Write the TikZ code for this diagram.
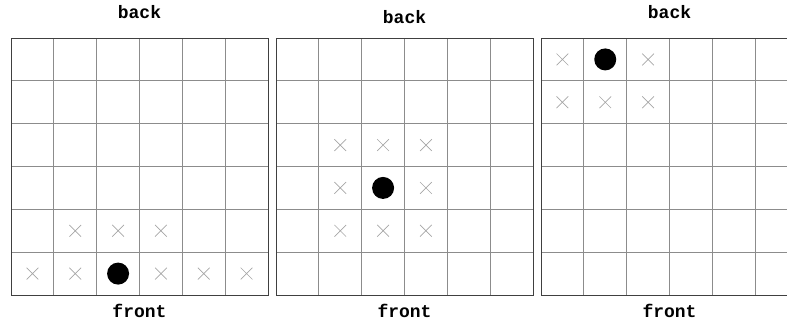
\documentclass[tikz,border=0pt]{standalone}
\usepackage{fontspec}
\setmonofont{Liberation Mono}
\usetikzlibrary{shapes}
\tikzset{
  board_line/.style = {draw=black!45, line width=0.8pt},
  board_edge/.style = {draw=black!75, line width=0.9pt},
  cross_mark/.style = {cross out, draw=black!35, line width=0.7pt,
    minimum size=11pt, inner sep=0pt},% case atteignable
  stone/.style = {circle, fill=black, minimum size=22pt, inner sep=0pt},% la piece
  side_label/.style = {font=\fontsize{18}{20}\selectfont\ttfamily\bfseries}
}
\newcommand{\cellw}{42.8333}

\begin{document}
\begin{tikzpicture}[x=1pt, y=-1pt]
  \useasboundingbox (0,0) rectangle (787,325);
  \clip (0,0) rectangle (787,325);
  % les trois plateaux
  \foreach \bx/\by/\k in {11/12/1, 276/17/2, 541/12/3} {
    \begin{scope}[shift={(\bx,38)}]
      \foreach \i in {1,...,5} {
        \draw [board_line] ({\i*\cellw},0) -- ({\i*\cellw},257);
        \draw [board_line] (0,{\i*\cellw}) -- (257,{\i*\cellw});
      }
      \draw [board_edge] (0,0) rectangle (257,257);
      \node [side_label] (back\k) at (128.5,\by-38) {back};
      \node [side_label] (front\k) at (128.5,273) {front};
    \end{scope}
  }
  % plateau 1
  \begin{scope}[shift={(11,38)}]
    \node [stone] (p1) at ({2.5*\cellw},{5.5*\cellw}) {};
    \foreach \c/\r in {1/4, 2/4, 3/4, 0/5, 1/5, 3/5, 4/5, 5/5}
      \node [cross_mark] (a-\c-\r) at ({(\c+0.5)*\cellw},{(\r+0.5)*\cellw}) {};
  \end{scope}
  % plateau 2
  \begin{scope}[shift={(276,38)}]
    \node [stone] (p2) at ({2.5*\cellw},{3.5*\cellw}) {};
    \foreach \c/\r in {1/2, 2/2, 3/2, 1/3, 3/3, 1/4, 2/4, 3/4}
      \node [cross_mark] (b-\c-\r) at ({(\c+0.5)*\cellw},{(\r+0.5)*\cellw}) {};
  \end{scope}
  % plateau 3
  \begin{scope}[shift={(541,38)}]
    \node [stone] (p3) at ({1.5*\cellw},{0.5*\cellw}) {};
    \foreach \c/\r in {0/0, 2/0, 0/1, 1/1, 2/1}
      \node [cross_mark] (c-\c-\r) at ({(\c+0.5)*\cellw},{(\r+0.5)*\cellw}) {};
  \end{scope}
\end{tikzpicture}
\end{document}
